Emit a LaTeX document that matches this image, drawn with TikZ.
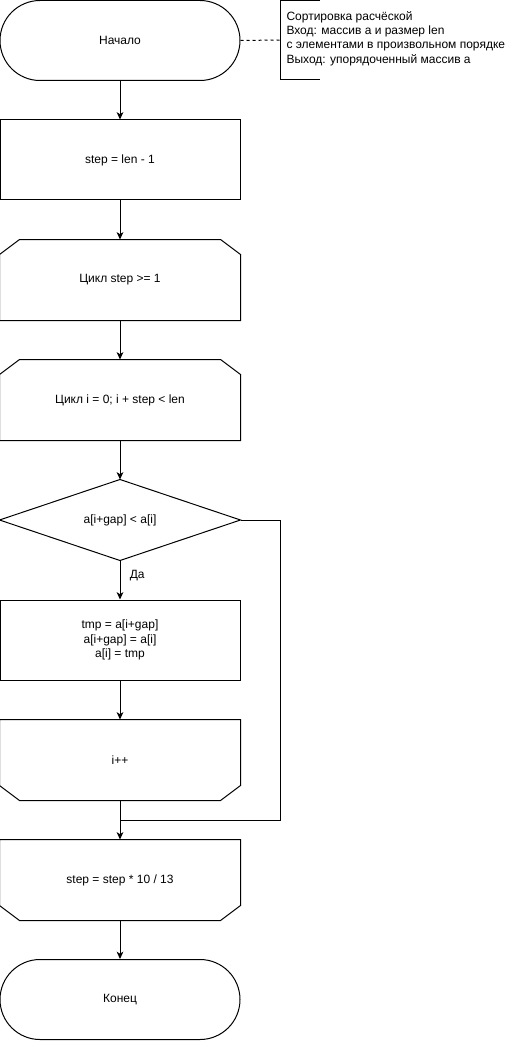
\documentclass[tikz,border=0pt]{standalone}
\usepackage{fontspec}
\setmainfont{Liberation Sans}
\usetikzlibrary{arrows.meta,calc}
\begin{document}
\begin{tikzpicture}[x=0.75pt,y=-0.75pt, line width=0.75pt,
  font=\fontsize{9}{10.75}\selectfont,
  lbl/.style={rectangle, minimum width=180pt, minimum height=60pt, inner sep=0pt, align=center},
  proc/.style={lbl, draw},
  term/.style={lbl, draw, rounded corners=30pt},
  arr/.style={-{Stealth[length=5.5pt,width=5pt,inset=1.5pt]}},
  note/.style={align=left, anchor=west, inner sep=0pt}]
\useasboundingbox (0,0) rectangle (507,1041);

\node[term] (start) at (120,40.5) {Начало};
\node[proc] (s1) at (120,160) {step = len - 1};
\node[lbl] (l1) at (120,280) {Цикл step >= 1};
\draw ($(l1.north west)+(0,15)$) -- ($(l1.north west)+(20,0)$) -- ($(l1.north east)+(-20,0)$) -- ($(l1.north east)+(0,15)$) -- (l1.south east) -- (l1.south west) -- cycle;
\node[lbl] (l2) at (120,400) {Цикл i = 0; i + step < len};
\draw ($(l2.north west)+(0,15)$) -- ($(l2.north west)+(20,0)$) -- ($(l2.north east)+(-20,0)$) -- ($(l2.north east)+(0,15)$) -- (l2.south east) -- (l2.south west) -- cycle;
\node[lbl] (d) at (120,520) {a[i+gap] < a[i]};
\draw (d.north) -- (d.east) -- (d.south) -- (d.west) -- cycle;
\node[proc] (sw) at (120,640) {tmp = a[i+gap]\\a[i+gap] = a[i]\\a[i] = tmp};
\node[lbl] (inc) at (120,760) {i++};
\draw (inc.north west) -- (inc.north east) -- ($(inc.south east)+(0,-15)$) -- ($(inc.south east)+(-20,0)$) -- ($(inc.south west)+(20,0)$) -- ($(inc.south west)+(0,-15)$) -- cycle;
\node[lbl] (s3) at (120,880) {step = step * 10 / 13};
\draw (s3.north west) -- (s3.north east) -- ($(s3.south east)+(0,-15)$) -- ($(s3.south east)+(-20,0)$) -- ($(s3.south west)+(20,0)$) -- ($(s3.south west)+(0,-15)$) -- cycle;
\node[term] (end) at (120,999.5) {Конец};

% comment
\coordinate (c1) at (280,40);
\draw[dash pattern=on 2.25pt off 2.25pt] (start.east) -- (c1);
\draw (320,0.8) -- (280,0.8) -- (280,80) -- (320,80);
\node[note] (cmt) at (286,38.5) {Сортировка расчёской\\Вход: массив a и размер len\\с элементами в произвольном порядке\\Выход: упорядоченный массив a};

% connectors
\draw[arr] (start) -- (s1);
\draw[arr] (s1) -- (l1);
\draw[arr] (l1) -- (l2);
\draw[arr] (l2) -- (d.north);
\draw[arr] (d.south) -- node[pos=0.38, right=7pt, inner sep=0pt] (yes) {Да} (sw);
\draw[arr] (sw) -- (inc);
\draw[arr] (inc) -- (s3);
\draw[arr] (s3) -- (end);
\coordinate (r) at (280,820);
\coordinate (j) at (120,820);
\draw (d.east) -| (r) -- (j);
\end{tikzpicture}
\end{document}
